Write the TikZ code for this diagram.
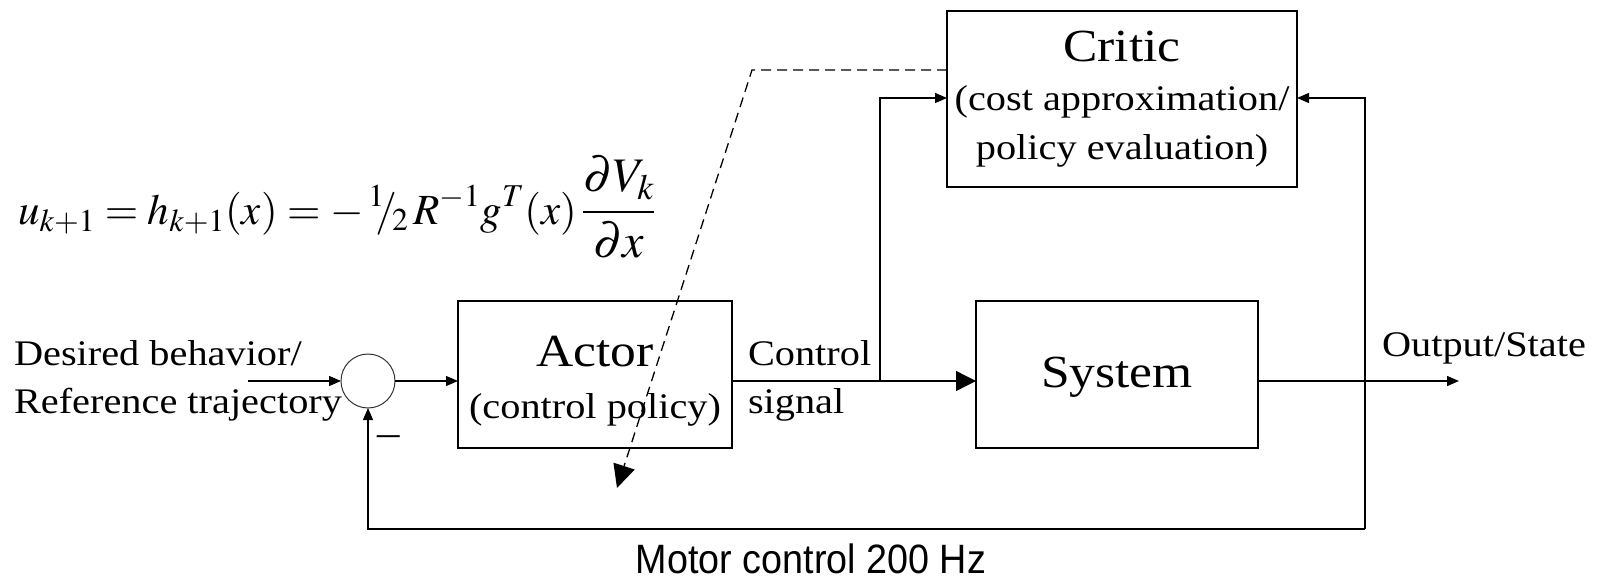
\documentclass[tikz,border=0pt]{standalone}
\usepackage{mathptmx}
\usepackage[no-math]{fontspec}
\newfontfamily\tnr{Liberation Serif}[FakeStretch=1.12]
\newfontfamily\arialn{Liberation Sans}[FakeStretch=0.92]
\usetikzlibrary{arrows.meta,calc}
\begin{document}
\begin{tikzpicture}[x=1pt,y=-1pt,
  every node/.style={inner sep=0pt,outer sep=0pt},
  blk/.style={draw,line width=1.3pt,fill=none},
  ln/.style={line width=1.3pt},
  arr/.style={ln,-{Triangle[length=12pt,width=10pt]}},
  bigarr/.style={ln,-{Triangle[length=20pt,width=20pt]}},
  dsh/.style={line width=1.3pt,dash pattern=on 10pt off 6pt,-{Triangle[length=23pt,width=22pt]}},
  small/.style={font=\tnr\fontsize{36}{48}\selectfont},
  big/.style={font=\tnr\fontsize{46}{52}\selectfont}]
\useasboundingbox (0,0) rectangle (1599,580);
% blocks
\node[blk,minimum width=350pt,minimum height=176pt] (critic) at (1122,99) {};
\node[blk,minimum width=274pt,minimum height=147pt] (actor) at (595,374.5) {};
\node[blk,minimum width=282pt,minimum height=147pt] (system) at (1117,374.5) {};
\node[draw=black!80,line width=1pt,circle,minimum size=54pt] (sum) at (368,381) {};
% block texts
\node[big] (criticT) at (1122,46) {Critic};
\node[small] (criticA) at (1122,102) {(cost approximation/};
\node[small] (criticB) at (1122,151) {policy evaluation)};
\node[big] (actorT) at (595,352) {Actor};
\node[small] (actorA) at (595,410) {(control policy)};
\node[big] (systemT) at (1117,377) {System};
% labels
\node[small,anchor=west,align=left] (desired) at (14,381) {Desired behavior/\\Reference trajectory};
\node[small,anchor=west,align=left] (ctrl) at (748,381) {Control\\signal};
\node[small] (outlbl) at (1484,348) {Output/State};
\node[font=\tnr\fontsize{40}{40}\selectfont] (minus) at (389,435) {\_};
\node[font=\arialn\fontsize{41}{44}\selectfont] (motor) at (811,559) {Motor control 200 Hz};
\node[anchor=west,font=\fontsize{43}{50}\selectfont] (formula) at (18,207)
  {$\displaystyle u_{k+1}=h_{k+1}(x)=-\,{}^{1}\!\!/\!{}_{2}\,R^{-1}g^{T}(x)\,\scalebox{1.12}{$\displaystyle\frac{\partial V_{k}}{\partial x}$}$};
% coordinates
\coordinate (in) at (248,381);
\coordinate (br) at (880,381);
\coordinate (brtop) at (880,98);
\coordinate (tap) at (1365,381);
\coordinate (taptop) at (1365,98);
\coordinate (tapbot) at (1365,529);
\coordinate (out) at (1459,381);
\coordinate (sumbot) at (368,529);
\coordinate (dk) at (752,70);
\coordinate (dend) at (617,488);
% connectors
\draw[arr] (in) -- (sum.west);
\draw[arr] (sum.east) -- (actor.west |- sum.east);
\draw[bigarr] (actor.east |- br) -- (system.west |- br);
\draw[arr] (br) -- (brtop) -- (critic.west |- brtop);
\draw[arr] (system.east |- tap) -- (out);
\draw[arr] (tapbot) -- (taptop) -- (critic.east |- taptop);
\draw[arr] (tapbot) -- (sumbot) -- (sum.south);
\draw[dsh] (critic.west |- dk) -- (dk) -- (dend);
\end{tikzpicture}
\end{document}
